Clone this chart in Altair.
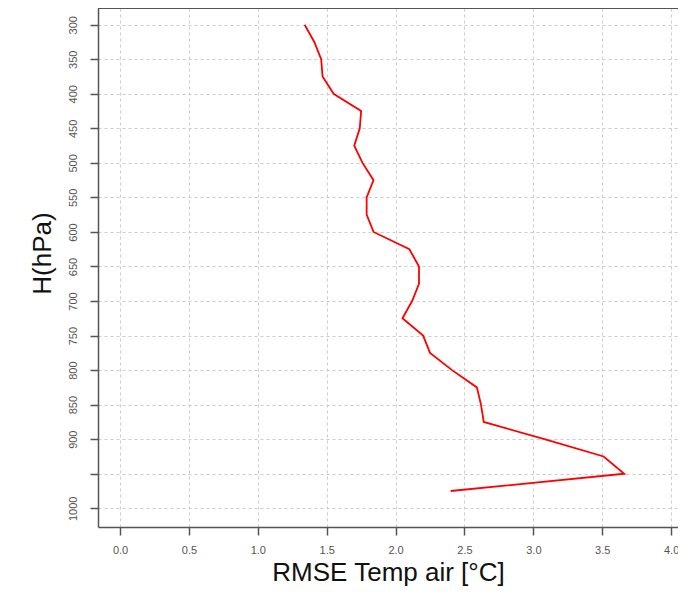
import altair as alt
import pandas as pd

pressure = [300, 325, 350, 375, 400, 425, 450, 475, 500, 525, 550, 575, 600, 625,
            650, 675, 700, 725, 750, 775, 800, 825, 850, 875, 900, 925, 950, 975]
rmse = [1.34, 1.41, 1.46, 1.47, 1.55, 1.75, 1.74, 1.70, 1.76, 1.84, 1.79, 1.79, 1.84, 2.10,
        2.17, 2.17, 2.12, 2.05, 2.20, 2.25, 2.41, 2.59, 2.62, 2.64, 3.08, 3.51, 3.66, 2.40]

x_ticks = [0.0, 0.5, 1.0, 1.5, 2.0, 2.5, 3.0, 3.5, 4.0]
y_ticks = [300, 350, 400, 450, 500, 550, 600, 650, 700, 750, 800, 850, 900, 950, 1000]

df = pd.DataFrame({"pressure": pressure, "rmse": rmse})

W, H = 580, 519
axis_col = "#555555"
grid_col = "#cccccc"
font = "Liberation Sans"

line = alt.Chart(df).mark_line(color="#ff0000", strokeWidth=1.8).encode(
    x=alt.X("rmse:Q",
            scale=alt.Scale(domain=[-0.16, 4.05], nice=False, zero=False),
            axis=alt.Axis(values=x_ticks, format=".1f", title="RMSE Temp air [°C]",
                          titleFont=font, titleFontSize=26, titleFontWeight="normal",
                          titleColor="#111111", titlePadding=4,
                          labelFont=font, labelFontSize=11, labelColor="#555555",
                          labelPadding=9, tickSize=8, tickColor=axis_col, tickWidth=1.5,
                          domainColor=axis_col, domainWidth=1.5,
                          grid=True, gridColor=grid_col, gridDash=[3, 3], gridWidth=1)),
    y=alt.Y("pressure:Q",
            scale=alt.Scale(domain=[275.8, 1027.1], reverse=True, nice=False, zero=False),
            axis=alt.Axis(values=y_ticks, title="H(hPa)", format="d",
                          labelExpr="datum.value == 950 ? '' : datum.label",
                          titleFont=font, titleFontSize=26, titleFontWeight="normal",
                          titleColor="#111111", titlePadding=12, titleY=245,
                          labelFont=font, labelFontSize=11, labelColor="#555555",
                          labelAngle=270, labelAlign="center", labelBaseline="bottom",
                          labelPadding=12, tickSize=8, tickColor=axis_col, tickWidth=1.5,
                          domainColor=axis_col, domainWidth=1.5,
                          grid=True, gridColor=grid_col, gridDash=[3, 3], gridWidth=1)),
    order="pressure:Q",
)

top_border = alt.Chart(df).mark_rule(color=axis_col, strokeWidth=1.5).encode(
    x=alt.value(0), x2=alt.value(W), y=alt.value(0)
)

chart = alt.layer(line, top_border).properties(
    width=W, height=H,
    autosize=alt.AutoSizeParams(type="none"),
    padding={"left": 90, "top": 0, "right": 0, "bottom": 59},
    background="white",
).configure_view(stroke=None)

chart.save("out.html", embed_options={"renderer": "svg", "actions": False})
